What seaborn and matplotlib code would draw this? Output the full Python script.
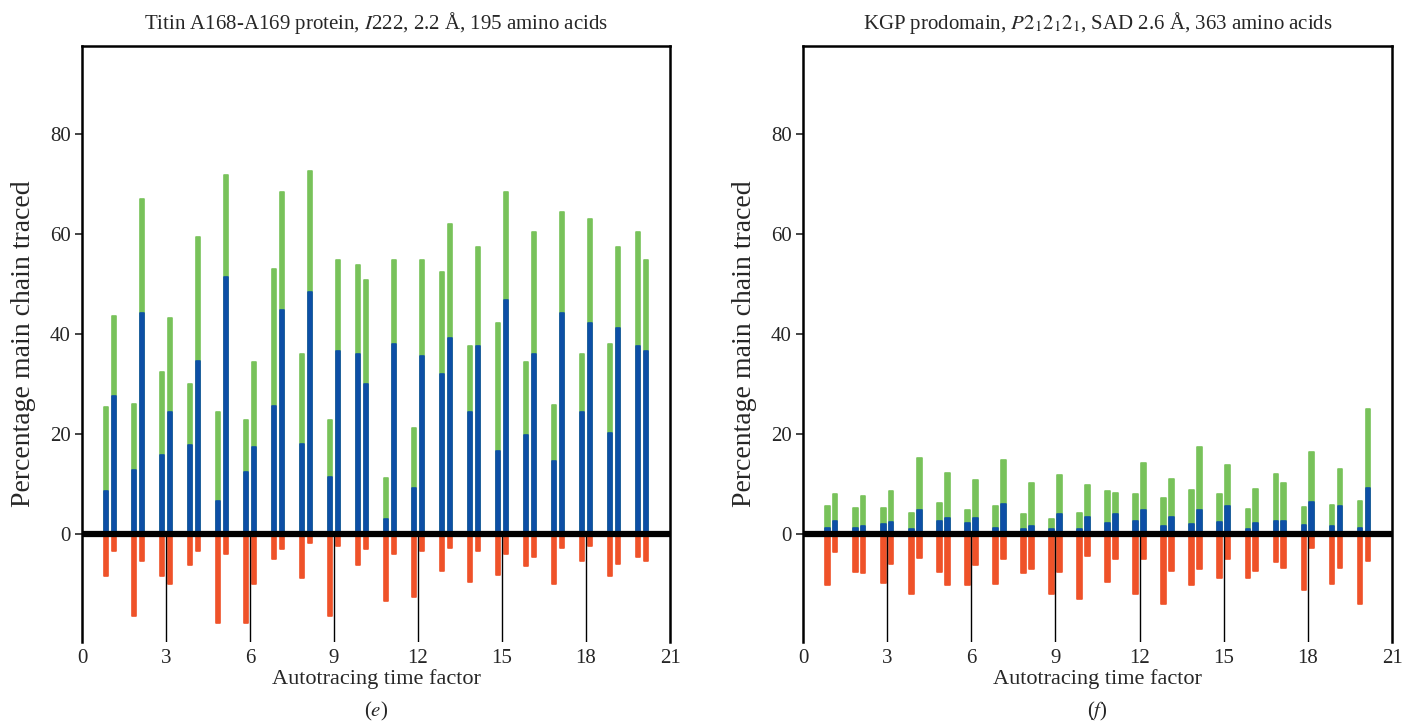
import numpy as np
import pandas as pd
import matplotlib
matplotlib.use("Agg")
import matplotlib.pyplot as plt
import seaborn as sns

# Autotracing time factors, two runs (a, b) per factor
FACTORS = list(range(1, 21))
RUNS = ["a", "b"]

# values per factor, listed as run a, run b
TITIN_TRACED = [25.3, 43.5, 26.0, 67.0, 32.4, 43.1, 30.0, 59.4, 24.4, 71.7,
                22.7, 34.4, 52.9, 68.4, 36.0, 72.6, 22.7, 54.8, 53.8, 50.8,
                11.1, 54.8, 21.2, 54.8, 52.3, 61.9, 37.6, 57.4, 42.1, 68.4,
                34.4, 60.3, 25.8, 64.4, 36.0, 62.9, 38.0, 57.4, 60.3, 54.8]
TITIN_CORRECT = [8.6, 27.5, 12.7, 44.2, 15.7, 24.4, 17.8, 34.6, 6.6, 51.3,
                 12.3, 17.3, 25.5, 44.8, 18.0, 48.3, 11.3, 36.5, 36.0, 30.0,
                 2.9, 38.0, 9.1, 35.5, 32.0, 39.2, 24.4, 37.6, 16.6, 46.7,
                 19.8, 36.0, 14.6, 44.1, 24.4, 42.1, 20.2, 41.1, 37.6, 36.5]
TITIN_WRONG = [-8.5, -3.5, -16.5, -5.5, -8.5, -10.1, -6.2, -3.5, -17.9, -4.1,
               -17.9, -10.1, -5.0, -3.0, -8.9, -1.9, -16.5, -2.5, -6.2, -3.0,
               -13.5, -4.1, -12.6, -3.5, -7.5, -2.8, -9.6, -3.5, -8.2, -4.1,
               -6.4, -4.6, -10.1, -2.8, -5.5, -2.5, -8.5, -6.0, -4.6, -5.5]

KGP_TRACED = [5.5, 7.9, 5.2, 7.5, 5.2, 8.6, 4.1, 15.2, 6.1, 12.2,
              4.7, 10.8, 5.5, 14.8, 3.9, 10.2, 3.0, 11.8, 4.1, 9.8,
              8.5, 8.2, 7.9, 14.2, 7.2, 11.0, 8.8, 17.4, 7.9, 13.8,
              5.0, 9.0, 12.0, 10.2, 5.4, 16.3, 5.7, 13.0, 6.5, 25.0]
KGP_CORRECT = [1.2, 2.5, 1.2, 1.5, 1.9, 2.4, 0.9, 4.7, 2.5, 3.2,
               2.1, 3.2, 1.2, 6.0, 0.9, 1.5, 0.9, 3.9, 0.9, 3.3,
               2.2, 3.9, 2.5, 4.7, 1.5, 3.3, 1.9, 4.7, 2.4, 5.5,
               0.9, 2.1, 2.5, 2.5, 1.7, 6.3, 1.5, 5.5, 1.2, 9.2]
KGP_WRONG = [-10.2, -3.7, -7.6, -7.8, -9.8, -6.1, -12.0, -4.8, -7.6, -10.3,
             -10.3, -6.3, -10.1, -5.0, -7.8, -7.1, -12.0, -7.6, -13.1, -4.5,
             -9.6, -5.0, -12.0, -5.0, -14.0, -7.5, -10.3, -7.1, -8.8, -5.0,
             -8.8, -7.5, -5.7, -6.8, -11.3, -2.8, -10.1, -6.8, -14.0, -5.5]

TITLES = ["Titin A168-A169 protein, $\\mathit{I}$222, 2.2 Å, 195 amino acids",
          "KGP prodomain, $\\mathit{P}2_12_12_1$, SAD 2.6 Å, 363 amino acids"]
PANEL_TAGS = ["($\\mathit{e}$)", "($\\mathit{f}$)"]
X_TICKS = [0, 3, 6, 9, 12, 15, 18, 21]
Y_TICKS = [0, 20, 40, 60, 80]

COLORS = {"traced": "#78c25a", "correct": "#0d4fa6", "wrong": "#ef5229"}
RUN_OFFSET = {"a": -0.14, "b": 0.14}
YMIN, YMAX = -21.6, 97.5


def build_frame(traced, correct, wrong):
    rows = []
    i = 0
    for f in FACTORS:
        for r in RUNS:
            pos = f + RUN_OFFSET[r]
            rows.append({"pos": pos, "series": "traced", "value": traced[i]})
            rows.append({"pos": pos, "series": "correct", "value": correct[i]})
            rows.append({"pos": pos, "series": "wrong", "value": wrong[i]})
            i += 1
    return pd.DataFrame(rows)


def draw_panel(ax, df, title, tag):
    # native scale: width is relative to the 0.28 gap between the two runs
    for s in ["traced", "correct", "wrong"]:
        sub = df[df["series"] == s]
        sns.barplot(data=sub, x="pos", y="value", native_scale=True,
                    width=0.6, color=COLORS[s], errorbar=None,
                    edgecolor=COLORS[s], linewidth=1.2, saturation=1, ax=ax)
    for p in ax.patches:
        p.set_joinstyle("round")

    ax.set_xlim(0, 21)
    ax.set_ylim(YMIN, YMAX)
    ax.axhline(0, color="black", lw=4.5, zorder=5)
    ax.vlines(X_TICKS[1:-1], YMIN, 0, color="black", lw=1.0, zorder=4)

    ax.set_xticks(X_TICKS)
    ax.set_xticklabels([str(t) for t in X_TICKS])
    ax.set_yticks(Y_TICKS)
    ax.tick_params(axis="x", length=0, pad=5, labelsize=15)
    ax.tick_params(axis="y", length=5, width=1.2, direction="out",
                   left=True, pad=3, labelsize=15)

    for side in ["top", "left", "right"]:
        ax.spines[side].set_visible(True)
        ax.spines[side].set_color("black")
        ax.spines[side].set_linewidth(1.8)
    ax.spines["bottom"].set_visible(False)

    ax.set_title(title, fontsize=15, pad=12)
    ax.set_xlabel("Autotracing time factor", fontsize=16, labelpad=1)
    ax.set_ylabel("Percentage main chain traced", fontsize=20, labelpad=10)
    ax.annotate(tag, xy=(0.5, 0), xycoords="axes fraction", xytext=(0, -50),
                textcoords="offset points", ha="center", va="center", fontsize=15)
    ax.grid(False)


sns.set_style("white")
plt.rcParams["font.family"] = ["Liberation Serif", "DejaVu Serif"]
plt.rcParams["mathtext.fontset"] = "stix"

fig = plt.figure(figsize=(14.02, 7.21), dpi=100)
ax1 = fig.add_axes([0.0585, 0.110, 0.4194, 0.826])
ax2 = fig.add_axes([0.5728, 0.110, 0.4201, 0.826])

draw_panel(ax1, build_frame(TITIN_TRACED, TITIN_CORRECT, TITIN_WRONG),
           TITLES[0], PANEL_TAGS[0])
draw_panel(ax2, build_frame(KGP_TRACED, KGP_CORRECT, KGP_WRONG),
           TITLES[1], PANEL_TAGS[1])

fig.savefig("out.png", dpi=100, facecolor="white")
